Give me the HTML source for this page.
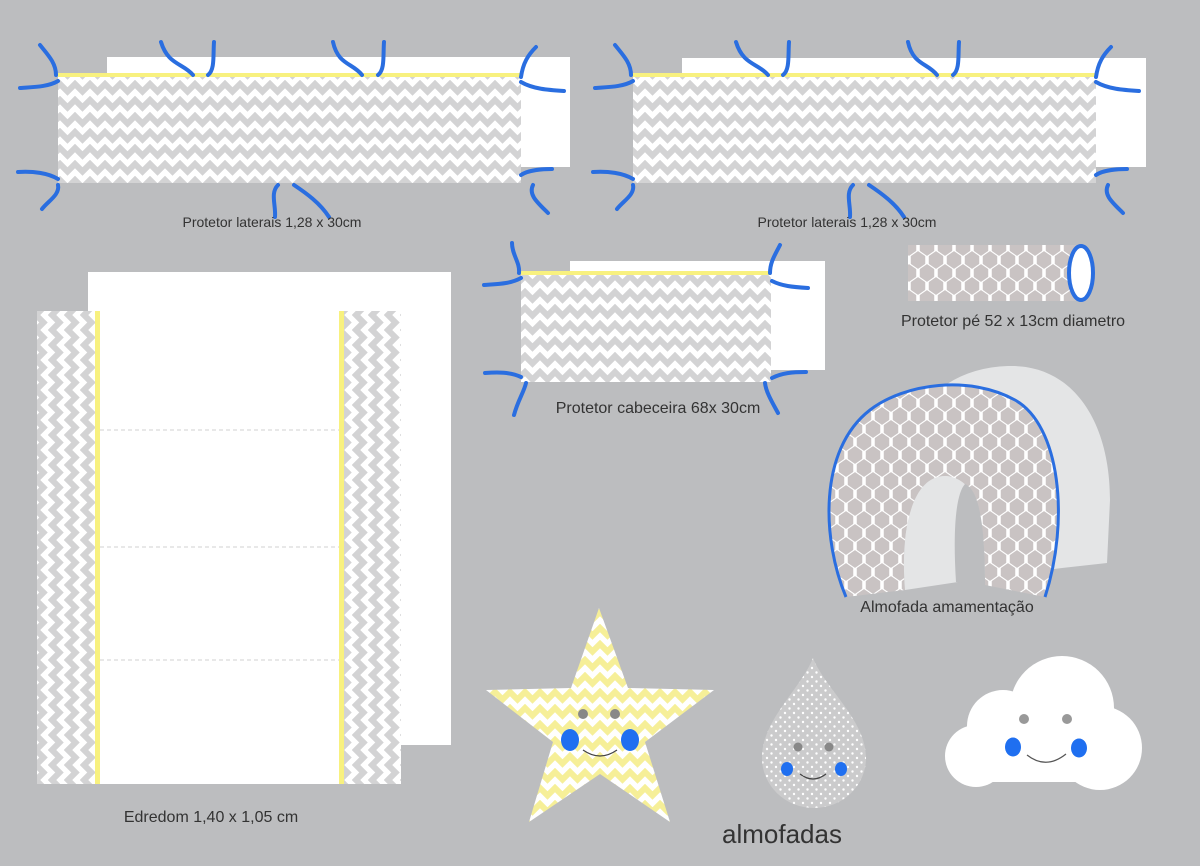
<!DOCTYPE html>
<html><head><meta charset="utf-8"><style>
html,body{margin:0;padding:0;background:#bcbdbf;}
svg{display:block;}
text{font-family:"Liberation Sans",sans-serif;fill:#333;}
</style></head><body>
<svg width="1200" height="866" viewBox="0 0 1200 866" xmlns="http://www.w3.org/2000/svg">
<defs>
<pattern id="chev" width="15" height="16" patternUnits="userSpaceOnUse">
<rect width="15" height="16" fill="#fff"/>
<polyline points="-7.5,11.5 0,4 7.5,11.5 15,4 22.5,11.5" fill="none" stroke="#d3d3d4" stroke-width="6"/>
</pattern>
<pattern id="chevv" width="16" height="15" patternUnits="userSpaceOnUse">
<rect width="16" height="15" fill="#fff"/>
<polyline points="11.5,-7.5 4,0 11.5,7.5 4,15 11.5,22.5" fill="none" stroke="#d3d3d4" stroke-width="6"/>
</pattern>
<pattern id="chevy" width="15" height="16" patternUnits="userSpaceOnUse">
<rect width="15" height="16" fill="#fff"/>
<polyline points="-7.5,11.5 0,4 7.5,11.5 15,4 22.5,11.5" fill="none" stroke="#f6ef98" stroke-width="6"/>
</pattern>
<pattern id="hex" width="18" height="26" patternUnits="userSpaceOnUse">
<rect width="18" height="26" fill="#fff"/>
<g fill="#c9c3c3" stroke="#c9c3c3" stroke-width="1.5" stroke-linejoin="round">
<polygon points="9,5 15.5,9.5 15.5,16.5 9,21 2.5,16.5 2.5,9.5"/>
<polygon points="0,-8 6.5,-3.5 6.5,3.5 0,8 -6.5,3.5 -6.5,-3.5"/>
<polygon points="18,-8 24.5,-3.5 24.5,3.5 18,8 11.5,3.5 11.5,-3.5"/>
<polygon points="0,18 6.5,22.5 6.5,29.5 0,34 -6.5,29.5 -6.5,22.5"/>
<polygon points="18,18 24.5,22.5 24.5,29.5 18,34 11.5,29.5 11.5,22.5"/>
</g>
</pattern>
<pattern id="dots" width="9" height="9" patternUnits="userSpaceOnUse">
<rect width="9" height="9" fill="#cbcbcc"/>
<circle cx="2" cy="2" r="1.2" fill="#fff"/>
<circle cx="6.5" cy="6.5" r="1.2" fill="#fff"/>
</pattern>
<g id="ties" fill="none" stroke="#2a6ee0" stroke-width="4" stroke-linecap="round">
<path d="M-2,0 C-2,-12 -10,-20 -18,-30"/>
<path d="M0,6 C-10,12 -25,12 -38,13"/>
<path d="M0,104 C-10,98 -25,96 -40,97"/>
<path d="M0,110 C2,120 -10,126 -16,134"/>
<path d="M463,2 C465,-12 470,-20 478,-28"/>
<path d="M463,7 C475,14 490,15 506,16"/>
<path d="M463,100 C470,95 485,94 494,94"/>
<path d="M475,110 C470,120 480,128 490,138"/>
<path d="M135,0 C125,-12 110,-10 103,-33"/>
<path d="M150,0 C157,-5 155,-20 156,-33"/>
<path d="M304,0 C295,-12 280,-10 275,-33"/>
<path d="M320,0 C327,-5 325,-20 326,-33"/>
<path d="M220,110 C212,118 218,130 217,142"/>
<path d="M236,110 C248,118 262,128 271,142"/>
</g>
</defs>

<rect x="107" y="57" width="463" height="110" fill="#fff"/>
<rect x="58" y="76" width="463" height="107" fill="url(#chev)"/>
<rect x="58" y="73" width="463" height="4" fill="#f8f17f"/>
<use href="#ties" transform="translate(58,75)"/>
<text x="272" y="227" font-size="14" text-anchor="middle">Protetor laterais 1,28 x 30cm</text>

<rect x="682" y="58" width="464" height="109" fill="#fff"/>
<rect x="633" y="76" width="463" height="107" fill="url(#chev)"/>
<rect x="633" y="73" width="463" height="4" fill="#f8f17f"/>
<use href="#ties" transform="translate(633,75)"/>
<text x="847" y="227" font-size="14" text-anchor="middle">Protetor laterais 1,28 x 30cm</text>

<rect x="570" y="261" width="255" height="109" fill="#fff"/>
<rect x="521" y="274" width="250" height="108" fill="url(#chev)"/>
<rect x="521" y="271" width="250" height="4" fill="#f8f17f"/>
<g fill="none" stroke="#2a6ee0" stroke-width="4" stroke-linecap="round">
<path d="M519,273 C520,262 512,255 512,243"/>
<path d="M521,278 C510,284 498,284 484,285"/>
<path d="M521,377 C510,372 498,372 485,373"/>
<path d="M526,383 C524,392 518,400 514,415"/>
<path d="M770,273 C770,262 775,255 780,245"/>
<path d="M772,281 C782,286 792,287 808,288"/>
<path d="M772,378 C782,373 792,372 806,372"/>
<path d="M765,383 C766,392 772,402 778,413"/>
</g>
<text x="658" y="413" font-size="16" text-anchor="middle">Protetor cabeceira 68x 30cm</text>

<rect x="908" y="245" width="172" height="56" fill="url(#hex)"/>
<ellipse cx="1081" cy="273" rx="12" ry="27" fill="#fff" stroke="#2a6ee0" stroke-width="4"/>
<text x="1013" y="326" font-size="16" text-anchor="middle">Protetor pé 52 x 13cm diametro</text>

<rect x="88" y="272" width="363" height="473" fill="#fff"/>
<rect x="37" y="311" width="364" height="473" fill="url(#chevv)"/>
<rect x="100" y="311" width="239" height="473" fill="#fff"/>
<rect x="95" y="311" width="5" height="473" fill="#f8f17f"/>
<rect x="339" y="311" width="5" height="473" fill="#f8f17f"/>
<g stroke="#d0d0d0" stroke-dasharray="4,3" stroke-width="1">
<line x1="100" y1="430" x2="339" y2="430"/>
<line x1="100" y1="547" x2="339" y2="547"/>
<line x1="100" y1="660" x2="339" y2="660"/>
</g>
<text x="211" y="822" font-size="16" text-anchor="middle">Edredom 1,40 x 1,05 cm</text>

<path d="M905,588 L905,470 C905,400 955,366 1012,366 C1072,366 1110,420 1110,500 L1107,563 L1062,568 Z" fill="#e4e5e6"/>
<path d="M846,597 C822,540 818,450 870,410 C905,383 970,375 1015,400 C1060,425 1070,520 1045,597 L985,585 C985,510 975,478 945,476 C912,476 900,530 905,590 Z" fill="url(#hex)"/>
<path d="M905,590 C900,530 912,478 945,476 C960,476 954,486 953,500 C952,540 955,580 958,582 Z" fill="#e4e5e6"/>
<path d="M956,582 C953,535 955,495 965,484 C980,490 985,530 985,585 Z" fill="#bcbdbf"/>
<path d="M846,597 C822,540 818,450 870,410 C905,383 970,375 1015,400 C1060,425 1070,520 1045,597" fill="none" stroke="#2a6ee0" stroke-width="3"/>
<text x="947" y="612" font-size="16" text-anchor="middle">Almofada amamentação</text>

<path d="M599,608 L628,688 L714,690 L645,742 L670,822 L600,774 L529,822 L553,742 L486,690 L571,688 Z" fill="url(#chevy)"/>
<circle cx="583" cy="714" r="5" fill="#888"/>
<circle cx="615" cy="714" r="5" fill="#888"/>
<ellipse cx="570" cy="740" rx="9" ry="11" fill="#1f6ff0"/>
<ellipse cx="630" cy="740" rx="9" ry="11" fill="#1f6ff0"/>
<path d="M583,750 Q600,762 617,750" fill="none" stroke="#444" stroke-width="1.2"/>

<path d="M813,658 C800,690 762,720 762,758 A52,50 0 0 0 866,758 C866,720 826,690 813,658 Z" fill="url(#dots)"/>
<circle cx="798" cy="747" r="4.5" fill="#888"/>
<circle cx="829" cy="747" r="4.5" fill="#888"/>
<ellipse cx="787" cy="769" rx="6" ry="7" fill="#1f6ff0"/>
<ellipse cx="841" cy="769" rx="6" ry="7" fill="#1f6ff0"/>
<path d="M800,774 Q813,784 826,774" fill="none" stroke="#444" stroke-width="1.2"/>

<g fill="#fff">
<circle cx="1062" cy="708" r="52"/>
<circle cx="1003" cy="726" r="36"/>
<circle cx="976" cy="756" r="31"/>
<circle cx="1100" cy="748" r="42"/>
<rect x="976" y="740" width="120" height="42"/>
</g>
<circle cx="1024" cy="719" r="5" fill="#999"/>
<circle cx="1067" cy="719" r="5" fill="#999"/>
<ellipse cx="1013" cy="747" rx="8" ry="9.5" fill="#1f6ff0"/>
<ellipse cx="1079" cy="748" rx="8" ry="9.5" fill="#1f6ff0"/>
<path d="M1027,755 Q1046,770 1066,754" fill="none" stroke="#555" stroke-width="1.2"/>

<text x="782" y="843" font-size="26" text-anchor="middle">almofadas</text>
</svg>
</body></html>
